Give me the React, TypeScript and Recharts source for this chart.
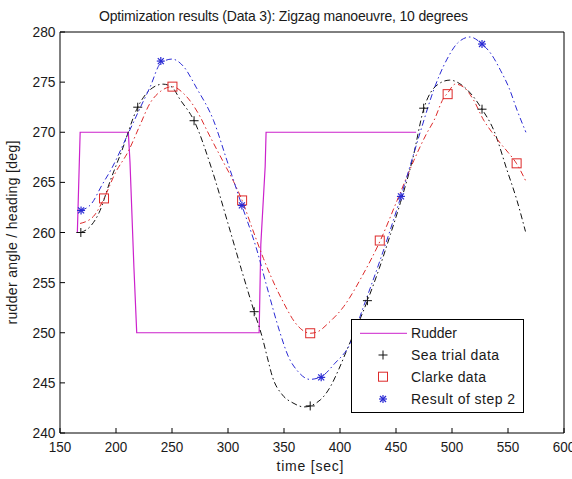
import React from 'react';
import { LineChart, Line, XAxis, YAxis, Legend } from 'recharts';

const FONT = '"Liberation Sans", Arial, Helvetica, sans-serif';
const TEXT = '#1a1a1a';

// Axis ticks
const xTicks = [150, 200, 250, 300, 350, 400, 450, 500, 550, 600];
const yTicks = [240, 245, 250, 255, 260, 265, 270, 275, 280];

// Rudder (solid magenta)
const rudderTime = [165.5, 168, 211, 212.5, 216, 218.5, 327.8, 329.3, 333.2, 334, 468];
const rudderAngle = [260, 270, 270, 267, 256.5, 250, 250, 258.8, 266.6, 270, 270];

// Sea trial curve (black dash-dot)
const seaTime = [168.5, 177, 185, 195, 205, 219.4, 230, 242, 250, 257, 269.7, 285, 300, 312, 323.4, 330.7, 335.2, 339.7, 348.6, 358, 368, 382.4, 391.3, 398.7, 406.2, 424.5, 435, 445, 454, 465, 474.7, 486.6, 498, 510, 518, 526.8, 537.3, 549.2, 558, 565.6];
const seaHeading = [260.0, 260.6, 262.0, 265.2, 268.1, 272.5, 274.2, 274.8, 274.5, 273.3, 271.15, 266.5, 260.9, 256.3, 252.1, 249.5, 247.5, 245.6, 243.8, 243.0, 242.6, 243.3, 244.6, 246.3, 248.3, 253.2, 256.4, 259.8, 263.0, 267.4, 272.3, 274.7, 275.2, 274.6, 273.7, 272.3, 270.2, 266.2, 263.2, 260.1];

// Clarke curve (red dash-dot)
const clarkeTime = [167.9, 179.8, 189.3, 199.2, 211, 221, 230.4, 240, 250.4, 260, 275.1, 281.1, 296, 304.9, 312.6, 322, 331.7, 340, 349.6, 360, 366, 373.4, 380, 390, 403.2, 420, 436, 451, 466, 477, 484, 492.5, 496, 503, 510.4, 519.3, 528.3, 535, 543.2, 550, 557.5, 565.6];
const clarkeHeading = [260.9, 261.6, 263.4, 265.9, 268.1, 270.6, 272.9, 274.1, 274.55, 273.9, 271.55, 270.2, 267.0, 265.1, 263.2, 260.3, 257.4, 255.2, 253.0, 251.0, 250.3, 249.95, 250.1, 251.0, 252.6, 255.7, 259.2, 263.2, 267.2, 269.8, 271.2, 273.4, 273.9, 274.8, 274.5, 273.2, 271.2, 270.1, 268.9, 268.0, 266.9, 265.2];

// Result of step 2 curve (blue dash-dot)
const resultTime = [168.8, 178.3, 187.3, 196.2, 211, 221, 230.4, 240, 250, 260, 272, 287, 299, 312.4, 325.8, 334.7, 346.6, 354, 362, 373, 383, 395, 409.2, 420, 436, 445, 454.4, 463, 473, 483.6, 495.6, 505, 516, 526.8, 535, 543.2, 551, 558.1, 566];
const resultHeading = [262.2, 262.9, 264.7, 266.4, 269.9, 272.3, 274.5, 276.9, 277.3, 276.6, 274.4, 271.2, 267.2, 262.7, 258.25, 254.6, 249.95, 247.6, 246.2, 245.35, 245.6, 246.9, 248.95, 252.3, 257.3, 260.3, 263.6, 266.8, 270.5, 274.2, 277.3, 278.9, 279.5, 278.8, 277.8, 276.2, 274.4, 272.2, 270.0];

// Markers
const seaMarkTime = [168.6, 219.4, 269.7, 323.4, 373.4, 424.5, 474.7, 526.8];
const seaMarkHeading = [260.0, 272.5, 271.15, 252.1, 242.7, 253.2, 272.4, 272.3];
const clarkeMarkTime = [189.3, 250.4, 312.6, 373.4, 435.5, 496.1, 557.7];
const clarkeMarkHeading = [263.4, 274.55, 263.2, 249.95, 259.2, 273.8, 266.9];
const resultMarkTime = [168.8, 240, 312.4, 383.2, 454.4, 526.8];
const resultMarkHeading = [262.2, 277.1, 262.7, 245.55, 263.6, 278.8];

const legendLabels = ['Rudder', 'Sea trial data', 'Clarke data', 'Result of step 2'];
const legendWidths = [46, 88, 75, 104];

const toPts = (xs: number[], ys: number[]) => xs.map((x, i) => ({ x, y: ys[i] }));

const COL = { rudder: '#cc22cc', sea: '#111111', clarke: '#dd2a2a', result: '#2a2ad4' };
const DASHDOT = '6 3 1.5 3';

const Plus = ({ cx, cy, stroke }: any) => (
  <g>
    <line x1={cx - 4.5} x2={cx + 4.5} y1={cy} y2={cy} stroke={stroke} strokeWidth={1} />
    <line x1={cx} x2={cx} y1={cy - 4.5} y2={cy + 4.5} stroke={stroke} strokeWidth={1} />
  </g>
);
const Square = ({ cx, cy, stroke }: any) => (
  <rect x={cx - 4.5} y={cy - 4.5} width={9} height={9} fill="none" stroke={stroke} strokeWidth={1} />
);
const Star = ({ cx, cy, stroke }: any) => (
  <g stroke={stroke} strokeWidth={1.2}>
    <line x1={cx - 4} x2={cx + 4} y1={cy} y2={cy} />
    <line x1={cx} x2={cx} y1={cy - 4} y2={cy + 4} />
    <line x1={cx - 3} x2={cx + 3} y1={cy - 3} y2={cy + 3} />
    <line x1={cx - 3} x2={cx + 3} y1={cy + 3} y2={cy - 3} />
  </g>
);

const XTick = (p: any) => (
  <text x={p.x} y={p.y + 18.5} textAnchor="middle" fontSize={14} fontFamily={FONT} fill={TEXT}
    textLength={22.5} lengthAdjust="spacingAndGlyphs">{p.payload.value}</text>
);
const YTick = (p: any) => (
  <text x={p.x} y={p.y + 5} textAnchor="end" fontSize={14} fontFamily={FONT} fill={TEXT}
    textLength={23} lengthAdjust="spacingAndGlyphs">{p.payload.value}</text>
);

const LegendBox = () => {
  const rows = [14.3, 36, 57.7, 80];
  return (
    <svg width={173} height={94} style={{ display: 'block' }}>
      <rect x={0.5} y={0.5} width={172} height={93} fill="#fff" stroke="#000" strokeWidth={1} />
      <line x1={9} x2={56} y1={rows[0]} y2={rows[0]} stroke={COL.rudder} strokeWidth={1} />
      <Plus cx={32} cy={rows[1]} stroke={COL.sea} />
      <Square cx={32} cy={rows[2]} stroke={COL.clarke} />
      <Star cx={32} cy={rows[3]} stroke={COL.result} />
      {legendLabels.map((l, i) => (
        <text key={l} x={60} y={rows[i] + 5} fontSize={14} fontFamily={FONT} fill={TEXT}
          textLength={legendWidths[i]} lengthAdjust="spacing">{l}</text>
      ))}
    </svg>
  );
};

export default function App() {
  const rudder = toPts(rudderTime, rudderAngle);
  const sea = toPts(seaTime, seaHeading);
  const clarke = toPts(clarkeTime, clarkeHeading);
  const result = toPts(resultTime, resultHeading);
  const seaM = toPts(seaMarkTime, seaMarkHeading);
  const clarkeM = toPts(clarkeMarkTime, clarkeMarkHeading);
  const resultM = toPts(resultMarkTime, resultMarkHeading);

  return (
    <div style={{ position: 'absolute', left: 0, top: 0, width: 572, height: 479, background: '#fff' }}>
      <LineChart width={572} height={479} margin={{ top: 31, right: 7, bottom: 16, left: 0 }}>
        <XAxis dataKey="x" type="number" domain={[150, 600]} ticks={xTicks} interval={0} allowDataOverflow
          height={30} tickSize={-5} tickMargin={5} stroke="#000" tick={(p: any) => <XTick {...p} />}
          label={{
            content: () => (
              <text x={310} y={471} textAnchor="middle" fontSize={14} fontFamily={FONT} fill={TEXT}
                textLength={67} lengthAdjust="spacing">time [sec]</text>
            ),
          }} />
        <XAxis xAxisId="top" orientation="top" dataKey="x" type="number" domain={[150, 600]} ticks={xTicks}
          interval={0} allowDataOverflow height={1} tickSize={-5} stroke="#000" tick={false} />
        <YAxis type="number" domain={[240, 280]} ticks={yTicks} interval={0} allowDataOverflow width={60}
          tickSize={-5} tickMargin={9.5} stroke="#000" tick={(p: any) => <YTick {...p} />}
          label={{
            content: () => (
              <text x={17} y={232.5} transform="rotate(-90 17 232.5)" textAnchor="middle" fontSize={14}
                fontFamily={FONT} fill={TEXT} textLength={184} lengthAdjust="spacing">rudder angle / heading [deg]</text>
            ),
          }} />
        <YAxis yAxisId="right" orientation="right" type="number" domain={[240, 280]} ticks={yTicks} interval={0}
          allowDataOverflow width={1} tickSize={-5} stroke="#000" tick={false} />

        <Line data={rudder} dataKey="y" type="linear" stroke={COL.rudder} strokeWidth={1.2} dot={false}
          activeDot={false} isAnimationActive={false} />
        <Line data={sea} dataKey="y" type="monotone" stroke={COL.sea} strokeWidth={1} strokeDasharray={DASHDOT}
          dot={false} activeDot={false} isAnimationActive={false} />
        <Line data={clarke} dataKey="y" type="monotone" stroke={COL.clarke} strokeWidth={1} strokeDasharray={DASHDOT}
          dot={false} activeDot={false} isAnimationActive={false} />
        <Line data={result} dataKey="y" type="monotone" stroke={COL.result} strokeWidth={1} strokeDasharray={DASHDOT}
          dot={false} activeDot={false} isAnimationActive={false} />
        <Line data={seaM} dataKey="y" stroke="none" isAnimationActive={false} activeDot={false}
          dot={(p: any) => <Plus key={'s' + p.index} cx={p.cx} cy={p.cy} stroke={COL.sea} />} />
        <Line data={clarkeM} dataKey="y" stroke="none" isAnimationActive={false} activeDot={false}
          dot={(p: any) => <Square key={'c' + p.index} cx={p.cx} cy={p.cy} stroke={COL.clarke} />} />
        <Line data={resultM} dataKey="y" stroke="none" isAnimationActive={false} activeDot={false}
          dot={(p: any) => <Star key={'r' + p.index} cx={p.cx} cy={p.cy} stroke={COL.result} />} />

        <Legend layout="vertical" align="center" verticalAlign="middle" content={() => <LegendBox />}
          wrapperStyle={{ left: 351, top: 319, width: 173, height: 94 }} />
      </LineChart>
      <svg width={572} height={30} style={{ position: 'absolute', left: 0, top: 0, pointerEvents: 'none' }}>
        <text x={99} y={20.5} fontSize={14} fontFamily={FONT} fill={TEXT} textLength={369} lengthAdjust="spacing">
          Optimization results (Data 3): Zigzag manoeuvre, 10 degrees
        </text>
      </svg>
    </div>
  );
}
